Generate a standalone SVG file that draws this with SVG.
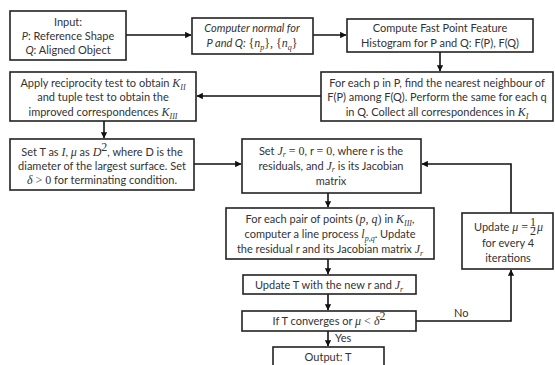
<svg xmlns="http://www.w3.org/2000/svg" width="555" height="365" viewBox="0 0 555 365">
<style>
.box{fill:#fff;stroke:#222;stroke-width:1.6}
text{font-family:Lato,"Liberation Sans",sans-serif;font-size:11px;fill:#333;text-anchor:middle}
.it{font-style:italic}
.m{font-family:"Liberation Serif",serif;font-style:italic;font-size:12px}
.mr{font-family:"Liberation Serif",serif;font-size:12px}
.sub{font-family:"Liberation Serif",serif;font-style:italic;font-size:8px}
.con{fill:none;stroke:#111;stroke-width:1.6}
.lbl{text-anchor:start}
</style>
<defs>
<marker id="ah" viewBox="0 0 6 6" refX="5.5" refY="3" markerWidth="4" markerHeight="4" orient="auto" markerUnits="strokeWidth">
<path d="M0,0 L6,3 L0,6 z" fill="#111"/>
</marker>
</defs>
<rect width="555" height="365" fill="#fff"/>
<g id="connectors">
<line class="con" x1="126" y1="35" x2="191" y2="35" marker-end="url(#ah)"/>
<line class="con" x1="313" y1="35" x2="346" y2="35" marker-end="url(#ah)"/>
<line class="con" x1="440" y1="52" x2="440" y2="71" marker-end="url(#ah)"/>
<line class="con" x1="321" y1="96" x2="197" y2="96" marker-end="url(#ah)"/>
<line class="con" x1="104" y1="121" x2="104" y2="138" marker-end="url(#ah)"/>
<line class="con" x1="194" y1="164" x2="241" y2="164" marker-end="url(#ah)"/>
<line class="con" x1="328" y1="193" x2="328" y2="207" marker-end="url(#ah)"/>
<line class="con" x1="328" y1="259" x2="328" y2="274" marker-end="url(#ah)"/>
<line class="con" x1="328" y1="294" x2="328" y2="310" marker-end="url(#ah)"/>
<line class="con" x1="328" y1="331" x2="328" y2="346" marker-end="url(#ah)"/>
<polyline class="con" points="416,321 511,321 511,270" marker-end="url(#ah)"/>
<polyline class="con" points="511,213 511,164 422,164" marker-end="url(#ah)"/>
<text class="lbl" x="335" y="342">Yes</text>
<text class="lbl" x="454" y="317">No</text>
</g>
<g id="n1">
<rect class="box" x="10" y="11" width="116" height="49"/>
<text x="68" y="26">Input:</text>
<text x="68" y="40"><tspan class="it">P</tspan>: Reference Shape</text>
<text x="68" y="54"><tspan class="it">Q</tspan>: Aligned Object</text>
</g>
<g id="n2">
<rect class="box" x="192" y="18" width="121" height="36"/>
<text class="it" x="252" y="32">Computer normal for</text>
<text x="252" y="47"><tspan class="it">P and Q: </tspan><tspan class="mr">{</tspan><tspan class="m">n</tspan><tspan class="sub" dy="3">p</tspan><tspan class="mr" dy="-3">}, {</tspan><tspan class="m">n</tspan><tspan class="sub" dy="3">q</tspan><tspan class="mr" dy="-3">}</tspan></text>
</g>
<g id="n3">
<rect class="box" x="347" y="19" width="186" height="33"/>
<text x="440" y="32">Compute Fast Point Feature</text>
<text x="440" y="47">Histogram for P and Q: F(P), F(Q)</text>
</g>
<g id="n4">
<rect class="box" x="10" y="72" width="186" height="49"/>
<text x="103" y="87">Apply reciprocity test to obtain <tspan class="m">K</tspan><tspan class="sub" dy="3">II</tspan></text>
<text x="103" y="101">and tuple test to obtain the</text>
<text x="103" y="116">improved correspondences <tspan class="m">K</tspan><tspan class="sub" dy="3">III</tspan></text>
</g>
<g id="n5">
<rect class="box" x="321" y="72" width="232" height="49"/>
<text x="437" y="87">For each p in P, find the nearest neighbour of</text>
<text x="437" y="101">F(P) among F(Q). Perform the same for each q</text>
<text x="437" y="116">in Q. Collect all correspondences in <tspan class="m">K</tspan><tspan class="sub" dy="3">I</tspan></text>
</g>
<g id="n6">
<rect class="box" x="10" y="139" width="184" height="51"/>
<text x="102" y="156">Set T as <tspan class="m">I</tspan>, <tspan class="m">μ</tspan> as <tspan class="m">D</tspan><tspan class="mr" font-size="8" dy="-5">2</tspan><tspan dy="5">, where D is the</tspan></text>
<text x="102" y="170">diameter of the largest surface. Set</text>
<text x="102" y="184"><tspan class="m">δ</tspan><tspan class="mr"> &gt; 0</tspan>  for terminating condition.</text>
</g>
<g id="n7">
<rect class="box" x="242" y="139" width="179" height="54"/>
<text x="331" y="155">Set  <tspan class="m">J</tspan><tspan class="sub" dy="2">r</tspan><tspan class="mr" dy="-2"> = 0</tspan>, r <tspan class="mr">= 0</tspan>, where r is the</text>
<text x="331" y="170">residuals, and <tspan class="m">J</tspan><tspan class="sub" dy="2">r</tspan><tspan dy="-2"> is its Jacobian</tspan></text>
<text x="331" y="185">matrix</text>
</g>
<g id="n8">
<rect class="box" x="226" y="208" width="208" height="51"/>
<text x="330" y="223">For each pair of points <tspan class="mr">(</tspan><tspan class="m">p</tspan><tspan class="mr">, </tspan><tspan class="m">q</tspan><tspan class="mr">)</tspan> in <tspan class="m">K</tspan><tspan class="sub" dy="3">III</tspan><tspan dy="-3">,</tspan></text>
<text x="330" y="238">computer a line process <tspan class="m">l</tspan><tspan class="sub" dy="3">p,q</tspan><tspan dy="-3">. Update</tspan></text>
<text x="330" y="253">the residual r and its Jacobian matrix <tspan class="m">J</tspan><tspan class="sub" dy="3">r</tspan></text>
</g>
<g id="n9">
<rect class="box" x="243" y="275" width="173" height="19"/>
<text x="329" y="289">Update T with the new r and <tspan class="m">J</tspan><tspan class="sub" dy="3">r</tspan></text>
</g>
<g id="n10">
<rect class="box" x="242" y="311" width="174" height="20"/>
<text x="329" y="325">If T converges or <tspan class="m">μ</tspan><tspan class="mr">  &lt; </tspan><tspan class="m">δ</tspan><tspan class="mr" font-size="8" dy="-5">2</tspan></text>
</g>
<g id="n11">
<rect class="box" x="273" y="347" width="111" height="22"/>
<text x="328" y="361">Output: T</text>
</g>
<g id="n12">
<rect class="box" x="462" y="213" width="91" height="56"/>
<text x="528" y="231" style="text-anchor:end">Update <tspan class="m">μ</tspan><tspan class="mr"> =</tspan></text>
<text x="533" y="225.5" class="mr" font-size="6.5">1</text>
<line x1="530.5" y1="227.5" x2="535.5" y2="227.5" stroke="#333" stroke-width="0.6"/>
<text x="533" y="234.5" class="mr" font-size="6.5">2</text>
<text x="537" y="231" class="m" style="text-anchor:start">μ</text>
<text x="508" y="247">for every 4</text>
<text x="508" y="262">iterations</text>
</g>
</svg>
